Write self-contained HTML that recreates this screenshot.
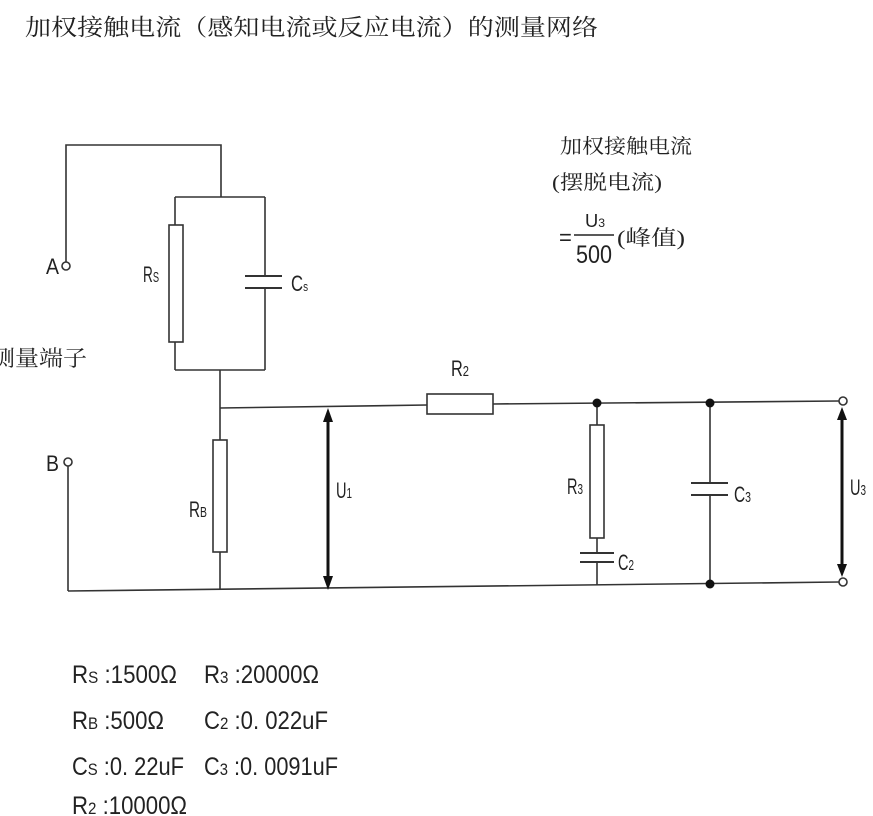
<!DOCTYPE html>
<html><head><meta charset="utf-8"><style>
html,body{margin:0;padding:0;background:#fff;width:873px;height:816px;overflow:hidden}
svg{display:block}
.cn{font-family:"Liberation Serif","Noto Serif CJK SC","Noto Sans CJK SC",serif;fill:#222}
.lb{font-family:"Liberation Sans","Noto Sans CJK SC",sans-serif;fill:#222}
</style></head><body>
<svg width="873" height="816" viewBox="0 0 873 816" xmlns="http://www.w3.org/2000/svg">
<text class="cn" x="25" y="35" font-size="23" textLength="573" lengthAdjust="spacingAndGlyphs">加权接触电流（感知电流或反应电流）的测量网络</text>

<g stroke="#333" stroke-width="1.6" fill="none">
<polyline points="66,262 66,145 221,145 221,197"/>
<polyline points="175,197 265,197"/>
<line x1="175" y1="197" x2="175" y2="225"/>
<line x1="175" y1="342" x2="175" y2="370"/>
<rect x="169" y="225" width="14" height="117" fill="#fff"/>
<line x1="265" y1="197" x2="265" y2="276"/>
<line x1="265" y1="288" x2="265" y2="370"/>
<line x1="245" y1="276" x2="282" y2="276" stroke-width="2"/>
<line x1="245" y1="288" x2="282" y2="288" stroke-width="2"/>
<line x1="175" y1="370" x2="265" y2="370"/>
<line x1="220" y1="370" x2="220" y2="440"/>
<rect x="213" y="440" width="14" height="112" fill="#fff"/>
<line x1="220" y1="552" x2="220" y2="590"/>
<line x1="220" y1="408" x2="427" y2="405"/>
<rect x="427" y="394" width="66" height="20" fill="#fff"/>
<line x1="493" y1="404" x2="839" y2="401"/>
<line x1="68" y1="466" x2="68" y2="591"/>
<line x1="68" y1="591" x2="839" y2="582"/>
<line x1="597" y1="403" x2="597" y2="425"/>
<rect x="590" y="425" width="14" height="113" fill="#fff"/>
<line x1="597" y1="538" x2="597" y2="553"/>
<line x1="597" y1="562" x2="597" y2="585"/>
<line x1="580" y1="553" x2="614" y2="553" stroke-width="2"/>
<line x1="580" y1="562" x2="614" y2="562" stroke-width="2"/>
<line x1="710" y1="403" x2="710" y2="483"/>
<line x1="710" y1="495" x2="710" y2="584"/>
<line x1="691" y1="483" x2="728" y2="483" stroke-width="2"/>
<line x1="691" y1="495" x2="728" y2="495" stroke-width="2"/>
<circle cx="66" cy="266" r="4" fill="#fff"/>
<circle cx="68" cy="462" r="4" fill="#fff"/>
<circle cx="843" cy="401" r="4" fill="#fff"/>
<circle cx="843" cy="582" r="4" fill="#fff"/>
<line x1="328" y1="418" x2="328" y2="580" stroke="#111" stroke-width="3"/>
<line x1="842" y1="414" x2="842" y2="570" stroke="#111" stroke-width="3"/>
</g>
<g fill="#111">
<polygon points="328,408 323,422 333,422"/>
<polygon points="328,590 323,576 333,576"/>
<polygon points="842,407 837,420 847,420"/>
<polygon points="842,577 837,564 847,564"/>
<circle cx="597" cy="403" r="4.5"/>
<circle cx="710" cy="403" r="4.5"/>
<circle cx="710" cy="584" r="4.5"/>
</g>

<g class="lb" font-size="22">
<text x="46" y="274" textLength="13" lengthAdjust="spacingAndGlyphs">A</text>
<text x="46" y="471" textLength="13" lengthAdjust="spacingAndGlyphs">B</text>
<text x="143" y="282" textLength="16" lengthAdjust="spacingAndGlyphs">R<tspan font-size="15">S</tspan></text>
<text x="291" y="291" textLength="17" lengthAdjust="spacingAndGlyphs">C<tspan font-size="13">s</tspan></text>
<text x="189" y="517" textLength="18" lengthAdjust="spacingAndGlyphs">R<tspan font-size="15">B</tspan></text>
<text x="336" y="498" textLength="16" lengthAdjust="spacingAndGlyphs">U<tspan font-size="15">1</tspan></text>
<text x="451" y="376" textLength="18" lengthAdjust="spacingAndGlyphs">R<tspan font-size="15">2</tspan></text>
<text x="567" y="494" textLength="16" lengthAdjust="spacingAndGlyphs">R<tspan font-size="15">3</tspan></text>
<text x="618" y="570" textLength="16" lengthAdjust="spacingAndGlyphs">C<tspan font-size="15">2</tspan></text>
<text x="734" y="502" textLength="17" lengthAdjust="spacingAndGlyphs">C<tspan font-size="15">3</tspan></text>
<text x="850" y="495" textLength="16" lengthAdjust="spacingAndGlyphs">U<tspan font-size="15">3</tspan></text>
</g>

<text class="cn" x="-9" y="366" font-size="22" textLength="96" lengthAdjust="spacingAndGlyphs">测量端子</text>

<text class="cn" x="560" y="153" font-size="20" textLength="132" lengthAdjust="spacingAndGlyphs">加权接触电流</text>
<text class="cn" x="552" y="189" font-size="20" textLength="110" lengthAdjust="spacingAndGlyphs">(摆脱电流)</text>
<text class="lb" x="559" y="245" font-size="22">=</text>
<line x1="574" y1="235" x2="614" y2="235" stroke="#222" stroke-width="1.5"/>
<text class="lb" x="585" y="227" font-size="18" textLength="20" lengthAdjust="spacingAndGlyphs">U<tspan font-size="12">3</tspan></text>
<text class="lb" x="576" y="263" font-size="25" textLength="36" lengthAdjust="spacingAndGlyphs">500</text>
<text class="cn" x="617" y="245" font-size="21" textLength="68" lengthAdjust="spacingAndGlyphs">(峰值)</text>

<g class="lb" font-size="25">
<text x="72" y="683" textLength="105" lengthAdjust="spacingAndGlyphs">R<tspan font-size="17">S</tspan> :1500Ω</text>
<text x="204" y="683" textLength="115" lengthAdjust="spacingAndGlyphs">R<tspan font-size="17">3</tspan> :20000Ω</text>
<text x="72" y="729" textLength="92" lengthAdjust="spacingAndGlyphs">R<tspan font-size="17">B</tspan> :500Ω</text>
<text x="204" y="729" textLength="124" lengthAdjust="spacingAndGlyphs">C<tspan font-size="17">2</tspan> :0. 022uF</text>
<text x="72" y="775" textLength="112" lengthAdjust="spacingAndGlyphs">C<tspan font-size="17">S</tspan> :0. 22uF</text>
<text x="204" y="775" textLength="134" lengthAdjust="spacingAndGlyphs">C<tspan font-size="17">3</tspan> :0. 0091uF</text>
<text x="72" y="814" textLength="115" lengthAdjust="spacingAndGlyphs">R<tspan font-size="17">2</tspan> :10000Ω</text>
</g>
</svg>
</body></html>
